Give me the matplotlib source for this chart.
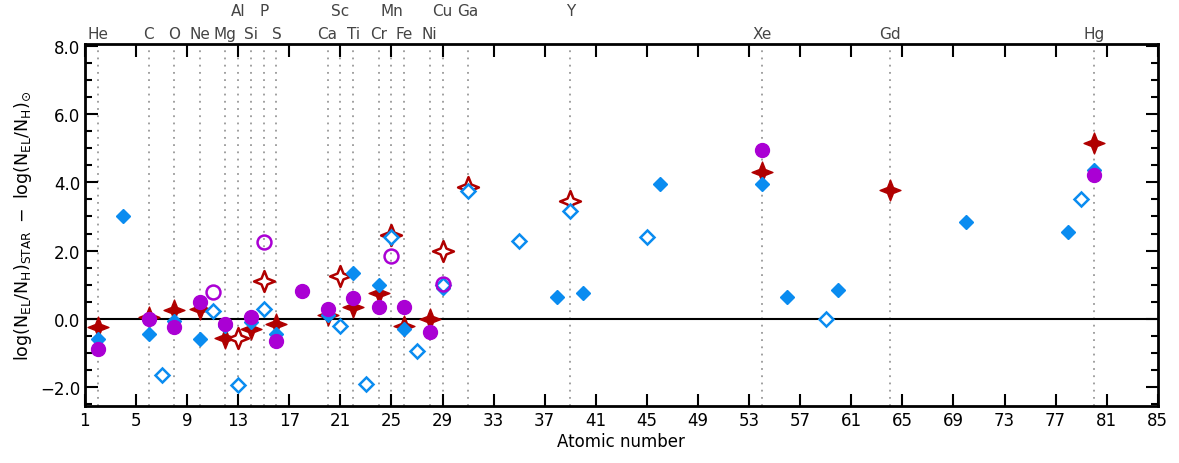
import matplotlib
matplotlib.use("Agg")
import matplotlib.pyplot as plt
import matplotlib.transforms as mtransforms
from matplotlib.path import Path
import numpy as np

# element markers (Z, symbol, row: 0 = lower, 1 = upper)
EL_Z   = [2, 6, 8, 10, 12, 13, 14, 15, 16, 20, 21, 22, 24, 25, 26, 28, 29, 31, 39, 54, 64, 80]
EL_SYM = ["He","C","O","Ne","Mg","Al","Si","P","S","Ca","Sc","Ti","Cr","Mn","Fe","Ni","Cu","Ga","Y","Xe","Gd","Hg"]
EL_ROW = [0, 0, 0, 0, 0, 1, 0, 1, 0, 0, 1, 0, 0, 1, 0, 0, 1, 1, 1, 0, 0, 0]

# blue, filled diamonds
blue_z = [2, 4, 6, 8, 10, 12, 14, 16, 20, 22, 24, 26, 29, 38, 40, 46, 54, 56, 60, 70, 78, 80]
blue_v = [-0.6, 3.0, -0.45, -0.05, -0.58, -0.22, -0.1, -0.45, 0.12, 1.35, 1.0, -0.3, 0.9,
          0.65, 0.75, 3.95, 3.95, 0.65, 0.85, 2.85, 2.55, 4.35]
# blue, open diamonds
blueo_z = [7, 11, 13, 15, 21, 23, 25, 27, 29, 31, 35, 39, 45, 59, 79]
blueo_v = [-1.65, 0.22, -1.95, 0.3, -0.2, -1.9, 2.4, -0.95, 1.0, 3.75, 2.28, 3.15, 2.4, 0.0, 3.5]
# purple, filled circles
purp_z = [2, 6, 8, 10, 12, 14, 16, 18, 20, 22, 24, 26, 28, 54, 80]
purp_v = [-0.88, 0.0, -0.25, 0.5, -0.15, 0.05, -0.65, 0.82, 0.28, 0.62, 0.35, 0.35, -0.38, 4.95, 4.2]
# purple, open circles
purpo_z = [11, 15, 25, 29]
purpo_v = [0.8, 2.25, 1.85, 1.02]
# red, filled stars
red_z = [2, 6, 8, 10, 12, 14, 16, 20, 22, 24, 26, 28, 54, 64, 80]
red_v = [-0.25, 0.05, 0.25, 0.28, -0.55, -0.3, -0.15, 0.12, 0.35, 0.75, -0.2, 0.0, 4.3, 3.78, 5.15]
# red, open stars
redo_z = [13, 15, 21, 25, 29, 31, 39]
redo_v = [-0.55, 1.12, 1.25, 2.45, 2.0, 3.85, 3.45]

BLUE = "#0a8cf0"
PURP = "#aa00d4"
RED = "#b00000"

plt.rcParams.update({"font.family": "DejaVu Sans", "mathtext.default": "regular",
                     "font.size": 12})

# 4-point star marker
ang = np.deg2rad(np.arange(0, 360, 45) + 90)
rad = np.array([1, 0.4] * 4)
verts = np.column_stack([rad * np.cos(ang), rad * np.sin(ang)])
verts = np.vstack([verts, verts[:1]])
STAR = Path(verts, [Path.MOVETO] + [Path.LINETO] * 7 + [Path.CLOSEPOLY])

fig = plt.figure(figsize=(11.79, 4.64), dpi=100)
ax = fig.add_axes([0.072, 0.123, 0.91, 0.78])

for z in EL_Z:
    ax.axvline(z, color="#999999", linestyle=(0, (1, 3)), linewidth=1.3, zorder=1)
ax.axhline(0, color="black", linewidth=1.5, zorder=2)

ax.plot(red_z, red_v, ls="none", marker=STAR, ms=15, color=RED, mec=RED, zorder=3)
ax.plot(redo_z, redo_v, ls="none", marker=STAR, ms=15, mfc="white", mec=RED, mew=1.8, zorder=3)
ax.plot(blue_z, blue_v, ls="none", marker="D", ms=7, color=BLUE, zorder=4)
ax.plot(blueo_z, blueo_v, ls="none", marker="D", ms=7.5, mfc="white", mec=BLUE, mew=1.8, zorder=4)
ax.plot(purp_z, purp_v, ls="none", marker="o", ms=10, color=PURP, zorder=5)
ax.plot(purpo_z, purpo_v, ls="none", marker="o", ms=10, mfc="none", mec=PURP, mew=1.8, zorder=5)

trans = mtransforms.blended_transform_factory(ax.transData, ax.transAxes)
for z, s, r in zip(EL_Z, EL_SYM, EL_ROW):
    ax.text(z, 1.03 if r == 0 else 1.092, s, transform=trans, ha="center", va="center",
            fontsize=11, color="#444444")

ax.set_xlim(1, 85)
ax.set_ylim(-2.55, 8.05)
ax.set_xticks(np.arange(1, 86, 4))
ax.set_yticks(np.arange(-2, 9, 2))
ax.set_yticks(np.arange(-2.5, 8.01, 0.5), minor=True)
ax.set_yticklabels([f"{v:.1f}".replace("-", "\u2212") for v in np.arange(-2, 9, 2)])
ax.tick_params(which="both", direction="in", top=True, right=True, width=1.5)
ax.tick_params(which="major", length=9, labelsize=12)
ax.tick_params(which="minor", length=5)
ax.tick_params(axis="x", which="minor", bottom=False, top=False)
for sp in ax.spines.values():
    sp.set_linewidth(2)

ax.set_xlabel("Atomic number", fontsize=12, labelpad=2)
ax.set_ylabel(r"$\log(N_{EL}/N_{H})_{STAR}\ -\ \log(N_{EL}/N_{H})_{\odot}$", fontsize=12.5)

fig.savefig("out.png", dpi=100)
